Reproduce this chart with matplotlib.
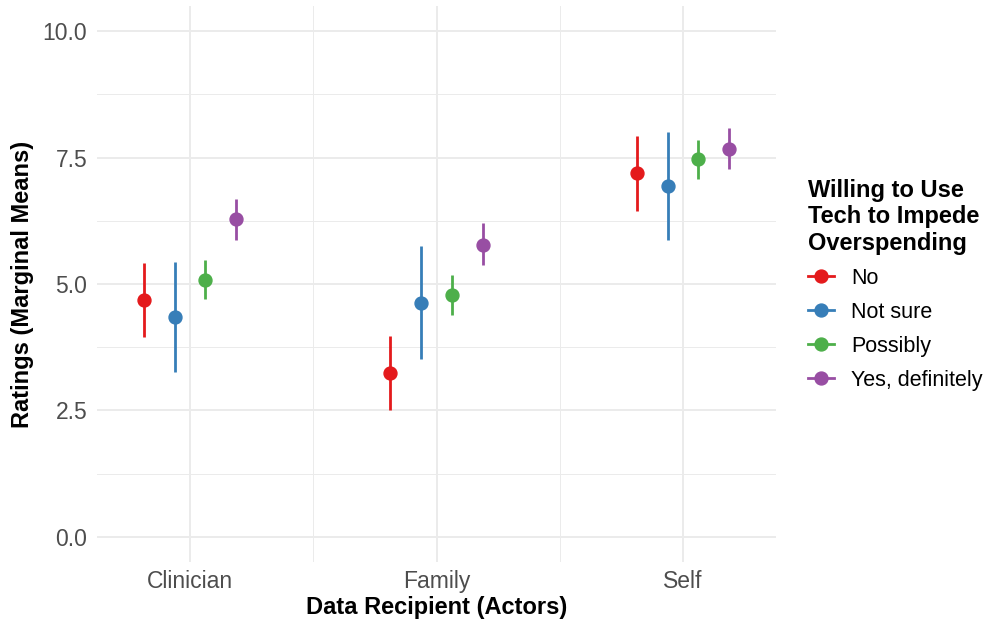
import numpy as np
import matplotlib.pyplot as plt
from matplotlib.lines import Line2D
from matplotlib.ticker import FixedLocator

plt.rcParams["font.family"] = ["Liberation Sans", "DejaVu Sans"]

recipients = ["Clinician", "Family", "Self"]
groups = ["No", "Not sure", "Possibly", "Yes, definitely"]
colors = ["#E41A1C", "#377EB8", "#4DAF4A", "#984EA3"]

# marginal means and CI bounds, rows = groups, cols = recipients
means = np.array([
    [4.68, 3.23, 7.19],
    [4.34, 4.63, 6.93],
    [5.08, 4.78, 7.48],
    [6.28, 5.78, 7.67],
])
lower = np.array([
    [3.95, 2.50, 6.45],
    [3.26, 3.52, 5.87],
    [4.70, 4.38, 7.08],
    [5.87, 5.37, 7.27],
])
upper = np.array([
    [5.41, 3.97, 7.92],
    [5.43, 5.75, 8.00],
    [5.47, 5.17, 7.85],
    [6.68, 6.20, 8.08],
])

fig = plt.figure(figsize=(9.92, 6.25), dpi=100)
ax = fig.add_axes([97 / 992, 1 - 562 / 625, (776 - 97) / 992, (562 - 6) / 625])

x = np.arange(len(recipients))
offsets = np.array([-0.1875, -0.0625, 0.0625, 0.1875])
for i, g in enumerate(groups):
    xs = x + offsets[i]
    ax.vlines(xs, lower[i], upper[i], color=colors[i], lw=2.0, zorder=3)
    ax.plot(xs, means[i], "o", color=colors[i], ms=9.3, zorder=4)

ax.set_xlim(-0.377, 2.377)
ax.set_ylim(-0.5, 10.5)
ax.set_xticks(x)
ax.set_xticklabels(recipients)
ax.set_yticks([0, 2.5, 5, 7.5, 10])
ax.set_yticklabels(["0.0", "2.5", "5.0", "7.5", "10.0"])
ax.xaxis.set_minor_locator(FixedLocator([0.5, 1.5]))
ax.yaxis.set_minor_locator(FixedLocator([1.25, 3.75, 6.25, 8.75]))
ax.grid(which="major", color="#EBEBEB", lw=1.4)
ax.grid(which="minor", color="#EBEBEB", lw=0.7)
ax.set_axisbelow(True)
for s in ax.spines.values():
    s.set_visible(False)
ax.tick_params(which="both", length=0)
ax.tick_params(axis="y", pad=7, labelsize=16.5, labelcolor="#4D4D4D")
ax.tick_params(axis="x", pad=6, labelsize=16.5, labelcolor="#4D4D4D")

ax.set_xlabel("Data Recipient (Actors)", fontsize=17, fontweight="bold", labelpad=2)
ax.set_ylabel("Ratings (Marginal Means)", fontsize=17, fontweight="bold", labelpad=6)

handles = [Line2D([0], [0], color=c, lw=2.0, marker="o", ms=9.3) for c in colors]
leg = fig.legend(handles, groups, loc="upper left", bbox_to_anchor=(0.795, 0.745),
                 frameon=False, fontsize=15.5, handlelength=1.2,
                 title="Willing to Use\nTech to Impede\nOverspending",
                 title_fontproperties={"weight": "bold", "size": 17},
                 alignment="left", labelspacing=0.6, handletextpad=0.8)

fig.savefig("out.png", dpi=100)
